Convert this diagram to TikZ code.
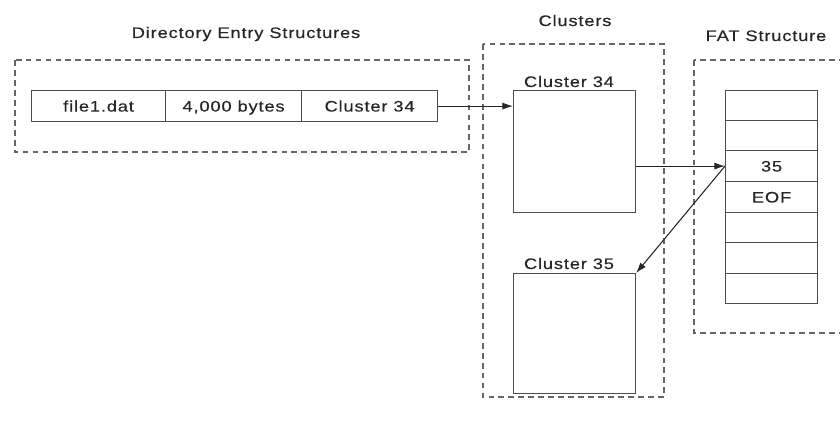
\documentclass[tikz,border=0pt]{standalone}
\usepackage{fontspec}
\setmainfont[FakeStretch=1.2,LetterSpace=5.5,FakeBold=0.4]{Liberation Sans}
\usetikzlibrary{arrows.meta}
\begin{document}
\begin{tikzpicture}[x=0.03cm,y=-0.03cm,
  font=\fontsize{13}{15}\selectfont,
  grp/.style={draw=black!60, dashed, dash pattern=on 5pt off 3.5pt, line width=1pt},
  cell/.style={draw=black!70, line width=1pt, minimum height=0.93cm, inner sep=0pt, anchor=north west, text height=9.3pt, text depth=0pt, text=black!85},
  lbl/.style={inner sep=0pt, anchor=base, text=black!85},
  conn/.style={draw=black!85, line width=0.9pt, -{Latex[length=9pt,width=6pt]}}]
\useasboundingbox (0,0) rectangle (840,427);
\clip (0,0) rectangle (840,427);
% group boxes
\draw[grp] (15,60) rectangle (469,152);
\draw[grp] (483,44) rectangle (664,397);
\draw[grp] (694,60) rectangle (860,333);
% titles
\node[lbl] (tdir) at (246,38) {Directory Entry Structures};
\node[lbl] (tclu) at (575,26) {Clusters};
\node[lbl] (tfat) at (766,41) {FAT Structure};
% directory entry table
\node[cell, minimum width=134*0.03cm] (d1) at (31,90) {file1.dat};
\node[cell, minimum width=136*0.03cm] (d2) at (165,90) {4,000 bytes};
\node[cell, minimum width=136*0.03cm] (d3) at (301,90) {Cluster 34};
% clusters
\node[cell, minimum width=122*0.03cm, minimum height=122*0.03cm] (c34) at (513,90) {};
\node[lbl] (l34) at (569,87) {Cluster 34};
\node[cell, minimum width=122*0.03cm, minimum height=120*0.03cm] (c35) at (513,273) {};
\node[lbl] (l35) at (569,269) {Cluster 35};
% FAT table
\node[cell, minimum width=92*0.03cm, minimum height=30*0.03cm] (f1) at (725,90) {};
\node[cell, minimum width=92*0.03cm, minimum height=30*0.03cm] (f2) at (725,120) {};
\node[cell, minimum width=92*0.03cm, minimum height=31*0.03cm] (f3) at (725,150) {35};
\node[cell, minimum width=92*0.03cm, minimum height=31*0.03cm] (f4) at (725,181) {EOF};
\node[cell, minimum width=92*0.03cm, minimum height=30*0.03cm] (f5) at (725,212) {};
\node[cell, minimum width=92*0.03cm, minimum height=31*0.03cm] (f6) at (725,242) {};
\node[cell, minimum width=92*0.03cm, minimum height=30*0.03cm] (f7) at (725,273) {};
% connectors
\draw[conn] (d3.east) -- (d3.east -| c34.west);
\draw[conn] (c34.east |- f3.west) -- (f3.west);
\draw[conn] (f3.west) -- (c35.north east);
\end{tikzpicture}
\end{document}
